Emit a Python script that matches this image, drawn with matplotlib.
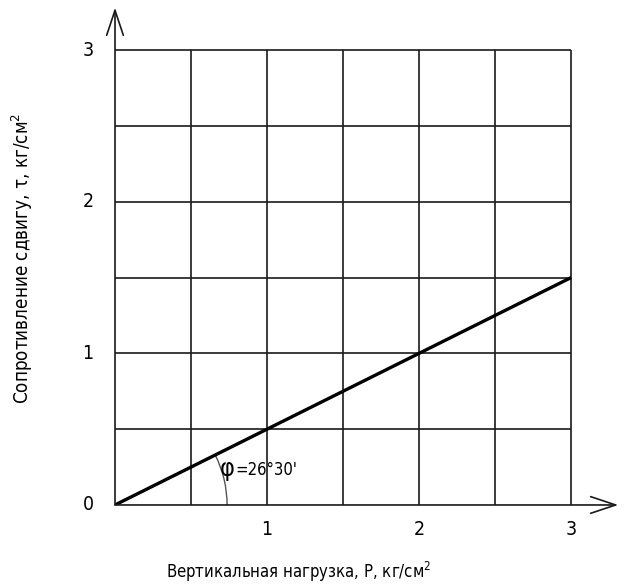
import numpy as np
import matplotlib
matplotlib.use("Agg")
import matplotlib.pyplot as plt
from matplotlib.patches import Arc

plt.rcParams['font.family'] = ['DejaVu Sans']
plt.rcParams['font.stretch'] = 'condensed'

# shear test: vertical load P vs shear resistance tau
load = [0, 3]
shear = [0, 1.5]
grid_step = 0.5
grid_max = 3
tick_vals = [1, 2, 3]
tick_labels = ['1', '2', '3']
phi_deg = 26.5
phi_sym = 'φ'
phi_val = "=26°30'"
xlabel = 'Вертикальная нагрузка, P, кг/см$^2$'
ylabel = 'Сопротивление сдвигу, τ, кг/см$^2$'

fig = plt.figure(figsize=(6.25, 5.88), dpi=100)
ax = fig.add_axes([0.184, 0.1412, 0.815, 0.851])
ax.set_xlim(0, 3.35)
ax.set_ylim(0, 3.3)
for s in ax.spines.values():
    s.set_visible(False)
ax.set_xticks([])
ax.set_yticks([])

# grid cells
lines = np.arange(grid_step, grid_max + 0.01, grid_step)
for v in lines:
    ax.plot([v, v], [0, grid_max], color='#1a1a1a', lw=1.2, solid_capstyle='butt')
    ax.plot([0, grid_max], [v, v], color='#1a1a1a', lw=1.2, solid_capstyle='butt')

# axes with open arrow heads
arrow = dict(arrowstyle='->,head_length=1.8,head_width=0.6', lw=1.2, color='#1a1a1a',
             shrinkA=0, shrinkB=0)
ax.annotate('', xy=(3.31, 0), xytext=(0, 0), arrowprops=arrow, annotation_clip=False)
ax.annotate('', xy=(0, 3.28), xytext=(0, 0), arrowprops=arrow, annotation_clip=False)

# strength line
ax.plot(load, shear, color='black', lw=2.4, solid_capstyle='butt')

# friction angle
ax.add_patch(Arc((0, 0), 2 * 0.737, 2 * 0.737, theta1=0, theta2=phi_deg,
                 color='#555555', lw=1.0))
ax.text(0.69, 0.24, phi_sym, fontsize=18, va='center', ha='left')
ax.text(0.79, 0.23, phi_val, fontsize=12, va='center', ha='left')

for v, t in zip(tick_vals, tick_labels):
    ax.text(v, -0.1, t, fontsize=14, ha='center', va='top')
    ax.text(-0.14, v, t, fontsize=14, ha='right', va='center')
ax.text(-0.14, 0, '0', fontsize=14, ha='right', va='center')

fig.text(0.477, 0.027, xlabel, fontsize=12, ha='center', va='center')
fig.text(0.035, 0.56, ylabel, fontsize=13.5, ha='center', va='center', rotation=90)

fig.savefig('out.png', dpi=100)
